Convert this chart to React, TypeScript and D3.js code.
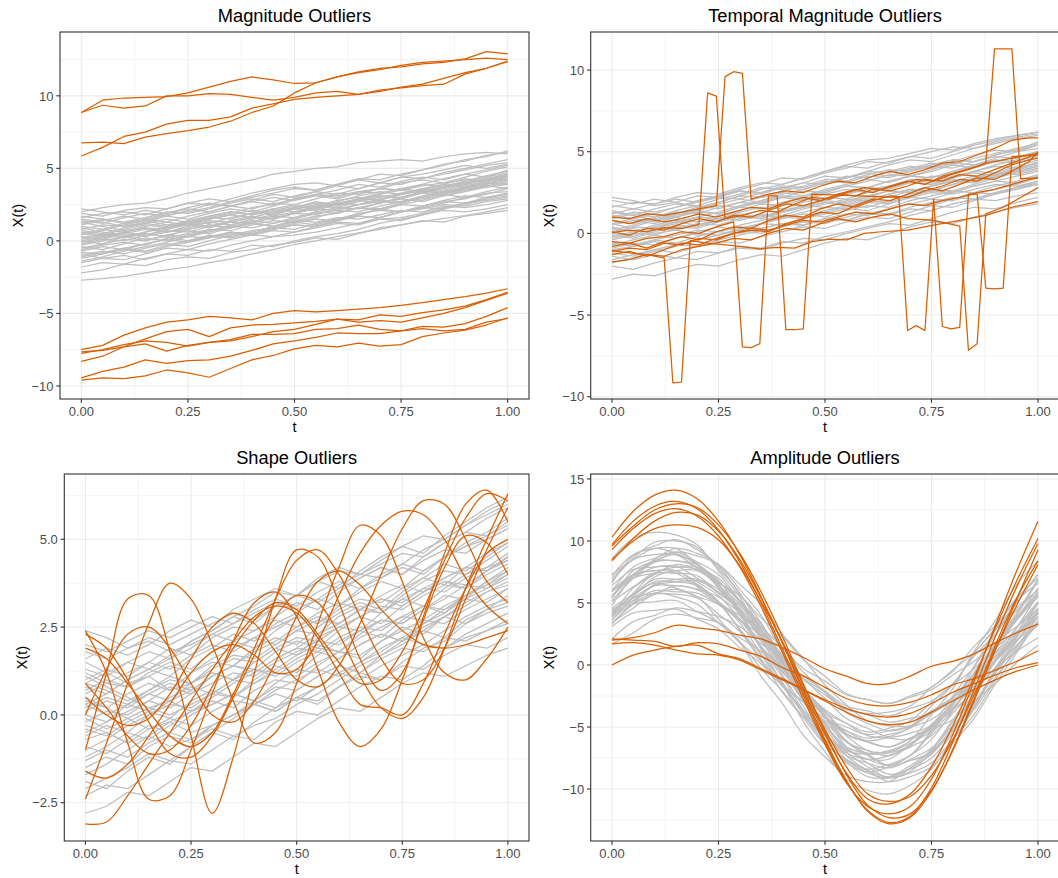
import React from "react";
import * as d3 from "d3";

// ---------- shared grids ----------
const T21 = [0, 0.05, 0.1, 0.15, 0.2, 0.25, 0.3, 0.35, 0.4, 0.45, 0.5, 0.55, 0.6, 0.65, 0.7, 0.75, 0.8, 0.85, 0.9, 0.95, 1];
const T_STEPS = 49; // temporal panel sampled on a 50-point grid, t = i / 49
const X_TICKS = [0, 0.25, 0.5, 0.75, 1];
const X_TICK_LABELS = ["0.00", "0.25", "0.50", "0.75", "1.00"];
const X_MINOR = [0.125, 0.375, 0.625, 0.875];

// ---------- Magnitude outliers ----------
const MAG_GRAY = [
  [-2.7,-2.6,-2.45,-2.2,-2.0,-1.8,-1.5,-1.25,-0.9,-0.6,-0.25,0.0,0.3,0.55,0.8,1.1,1.35,1.55,1.75,2.0,2.3],
  [-2.2,-2.0,-1.6,-1.7,-1.3,-1.1,-1.2,-0.8,-0.6,-0.3,-0.1,0.2,0.1,0.5,0.9,1.1,1.4,1.3,1.7,1.9,2.1],
  [-1.8,-1.5,-1.6,-1.2,-0.9,-0.6,-0.7,-0.3,0.0,0.3,0.4,0.6,0.9,1.2,1.5,1.6,1.9,2.3,2.6,2.8,3.0],
  [-1.5,-1.2,-1.3,-0.9,-0.5,-0.6,-0.2,0.1,0.4,0.3,0.6,1.0,1.3,1.2,1.6,2.0,2.2,2.5,2.4,2.7,2.9],
  [-1.2,-0.9,-0.6,-0.8,-0.4,-0.1,0.3,0.2,0.5,0.8,1.1,1.0,1.4,1.7,1.6,2.0,2.4,2.7,2.9,3.3,3.4],
  [-1.0,-0.7,-0.9,-0.5,-0.2,-0.4,0.0,0.4,0.7,0.9,0.8,1.2,1.5,1.9,2.1,2.0,2.3,2.6,3.0,3.2,3.6],
  [-0.8,-0.9,-0.5,-0.2,0.1,0.3,0.2,0.6,0.5,0.9,1.2,1.5,1.4,1.8,2.2,2.5,2.4,2.8,3.1,3.0,3.3],
  [-0.6,-0.3,-0.1,-0.3,0.2,0.5,0.8,0.7,1.1,1.4,1.3,1.6,2.0,2.3,2.2,2.6,3.0,3.3,3.5,3.8,4.1],
  [-0.4,-0.6,-0.2,0.2,0.0,0.4,0.7,1.0,0.9,1.2,1.5,1.9,2.1,2.0,2.4,2.7,2.9,3.2,3.6,3.7,3.9],
  [-0.2,0.1,0.0,0.4,0.7,0.6,1.0,1.3,1.2,1.6,1.9,1.8,2.2,2.5,2.7,2.6,3.0,3.4,3.6,4.0,4.2],
  [0.0,-0.2,0.3,0.5,0.3,0.8,1.1,0.9,1.3,1.7,1.6,2.0,2.3,2.2,2.6,3.0,3.3,3.1,3.5,3.8,3.6],
  [0.1,0.4,0.2,0.6,0.9,1.2,1.0,1.4,1.7,1.5,1.9,2.3,2.5,2.8,2.6,3.0,3.4,3.7,3.9,4.3,4.5],
  [0.3,0.1,0.5,0.8,0.6,1.0,1.4,1.3,1.6,2.0,2.2,2.1,2.5,2.9,3.1,2.9,3.3,3.6,4.0,4.2,4.4],
  [0.5,0.8,0.6,1.0,1.3,1.1,1.5,1.8,2.1,1.9,2.3,2.7,2.5,2.9,3.3,3.6,3.4,3.8,4.1,4.5,4.8],
  [0.6,0.4,0.8,1.1,0.9,1.3,1.2,1.6,1.9,2.2,2.0,2.4,2.8,3.0,2.8,3.2,3.5,3.9,3.7,4.1,4.3],
  [0.8,1.1,1.0,1.3,1.7,1.5,1.9,2.2,2.0,2.4,2.8,3.1,2.9,3.3,3.6,3.5,3.9,4.3,4.6,4.4,4.9],
  [1.0,0.8,1.2,1.5,1.3,1.7,2.0,2.4,2.2,2.6,2.5,2.9,3.3,3.2,3.6,4.0,4.2,4.0,4.4,4.8,5.1],
  [1.2,1.5,1.3,1.6,2.0,1.9,2.2,2.6,2.9,2.7,3.1,3.4,3.2,3.6,4.0,3.9,4.3,4.6,4.9,5.2,5.4],
  [1.4,1.2,1.6,1.9,1.7,2.1,2.5,2.4,2.8,3.2,3.0,3.4,3.8,3.6,4.0,4.4,4.3,4.7,5.0,5.3,5.6],
  [1.6,1.9,2.0,1.8,2.2,2.6,2.9,2.7,3.1,3.5,3.7,3.5,3.9,4.3,4.2,4.6,4.9,5.3,5.5,5.9,6.1],
  [1.9,1.7,2.1,2.3,2.2,2.6,2.5,2.9,3.3,3.6,3.9,4.0,3.8,4.2,4.6,4.5,4.9,5.2,5.6,5.8,6.2],
  [2.2,2.0,1.8,2.1,1.9,2.3,2.6,2.4,2.7,2.5,2.9,3.2,3.0,3.4,3.3,3.6,3.9,3.7,4.0,4.3,4.6],
  [1.3,1.0,0.7,0.9,0.6,0.8,1.1,0.9,1.2,1.0,1.4,1.3,1.6,1.5,1.8,2.1,2.0,2.4,2.3,2.5,2.8],
  [0.9,0.6,0.4,0.1,0.3,0.0,0.3,0.6,0.4,0.7,0.6,0.9,1.2,1.1,1.5,1.4,1.8,2.1,2.0,2.2,2.5],
  [-0.3,0.0,0.3,0.6,1.0,1.2,1.6,1.9,2.3,2.5,2.9,3.2,3.1,3.4,3.6,3.5,3.8,4.0,4.2,4.1,4.4],
  [0.4,0.7,1.1,1.4,1.8,2.0,2.3,2.7,3.0,3.3,3.6,3.5,3.9,4.2,4.0,4.4,4.6,4.9,5.2,5.0,5.3],
  [-1.4,-1.1,-0.7,-0.4,-0.1,0.3,0.6,1.0,1.3,1.7,2.0,2.3,2.6,2.5,2.9,3.2,3.5,3.4,3.8,4.1,4.5],
  [1.7,1.5,1.2,1.4,1.1,1.3,1.6,1.5,1.9,1.8,2.2,2.5,2.4,2.8,3.1,3.0,3.4,3.3,3.7,3.9,4.2],
  [-0.9,-1.2,-1.0,-1.3,-0.9,-1.0,-0.6,-0.7,-0.3,-0.4,0.0,0.3,0.5,0.8,1.2,1.5,1.8,2.2,2.5,2.9,3.1],
  [2.0,2.3,2.5,2.6,2.9,3.3,3.6,3.9,4.2,4.6,4.8,5.0,5.1,5.4,5.5,5.6,5.5,5.8,6.0,6.1,6.0],
  [0.2,0.5,0.3,0.0,0.4,0.7,0.5,0.9,1.2,1.0,1.4,1.7,1.9,2.3,2.1,2.5,2.8,3.2,3.0,3.4,3.7],
  [-0.5,-0.2,0.1,0.0,0.4,0.3,0.7,1.1,1.4,1.2,1.6,2.0,1.9,2.3,2.6,2.9,2.7,3.1,3.4,3.7,4.0],
  [1.1,1.4,1.7,1.5,1.9,2.2,2.0,2.4,2.7,3.0,2.8,3.2,3.5,3.9,3.7,4.1,4.4,4.2,4.6,4.9,5.2],
  [0.7,0.5,0.9,1.2,1.0,1.4,1.7,2.0,1.8,2.2,2.5,2.3,2.7,3.1,3.4,3.2,3.6,3.9,4.3,4.1,4.6],
  [-1.1,-0.8,-0.5,-0.7,-0.3,0.0,0.4,0.3,0.6,1.0,1.3,1.1,1.5,1.8,2.2,2.0,2.4,2.7,2.6,3.0,3.2],
  [0.0,0.3,0.6,0.9,0.8,1.2,1.5,1.8,1.6,2.0,2.3,2.6,2.5,2.9,3.2,3.5,3.3,3.7,4.1,4.4,4.7],
  [1.5,1.3,1.0,1.2,1.5,1.3,1.7,2.0,1.8,2.1,2.4,2.2,2.6,2.9,2.8,3.2,3.5,3.3,3.7,4.0,3.9],
  [-0.7,-0.4,-0.6,-0.2,0.1,-0.1,0.2,0.5,0.4,0.8,1.1,1.0,1.4,1.7,1.6,2.0,2.3,2.2,2.6,2.9,3.3],
  [0.5,0.3,0.6,0.4,0.8,1.1,0.9,1.3,1.6,1.5,1.9,2.2,2.1,2.5,2.8,2.7,3.1,3.4,3.6,3.9,4.3],
  [-0.1,0.2,0.5,0.3,0.6,0.9,1.3,1.1,1.5,1.8,2.2,2.4,2.3,2.7,3.0,3.3,3.6,3.5,3.9,4.2,4.6],
];
const MAG_OUT = [
  [8.85,9.7,9.85,9.9,9.95,10.2,10.6,11.0,11.3,11.1,10.85,10.9,11.3,11.65,11.9,12.0,12.2,12.3,12.55,13.05,12.9],
  [8.85,9.35,9.15,9.3,10.0,10.0,10.15,10.1,9.9,9.7,9.9,10.2,10.3,10.1,10.3,10.6,10.8,11.2,11.6,11.9,12.35],
  [6.75,6.8,6.7,7.15,7.4,7.6,7.85,8.25,8.85,9.3,10.2,10.9,11.3,11.6,11.8,12.1,12.3,12.4,12.5,12.6,12.5],
  [5.85,6.45,7.2,7.5,8.05,8.3,8.3,8.55,9.15,9.45,9.75,9.9,10.0,10.1,10.4,10.55,10.7,10.8,11.5,11.9,12.4],
  [-7.5,-7.2,-6.5,-6.0,-5.6,-5.45,-5.2,-5.3,-5.45,-5.0,-4.8,-4.9,-4.8,-4.7,-4.6,-4.45,-4.25,-4.05,-3.85,-3.6,-3.3],
  [-7.65,-7.55,-7.3,-6.75,-6.25,-6.1,-6.6,-6.0,-5.8,-5.75,-5.65,-5.55,-5.4,-5.45,-5.1,-5.2,-4.95,-4.75,-4.5,-4.05,-3.55],
  [-7.75,-7.5,-7.15,-6.9,-7.0,-7.25,-7.0,-6.9,-6.6,-6.25,-6.1,-5.75,-5.4,-5.6,-5.5,-5.6,-5.3,-5.0,-4.6,-4.1,-3.6],
  [-8.3,-7.95,-7.3,-7.1,-7.6,-7.2,-7.0,-6.8,-6.45,-6.45,-6.4,-6.1,-6.05,-5.8,-6.1,-6.2,-5.9,-5.95,-5.7,-5.2,-4.6],
  [-9.45,-9.0,-8.7,-8.2,-8.45,-8.25,-8.2,-7.95,-7.55,-7.1,-6.9,-6.65,-6.35,-6.4,-6.4,-6.2,-6.05,-6.2,-6.1,-5.6,-5.35],
  [-9.6,-9.45,-9.5,-9.3,-8.9,-9.1,-9.4,-8.8,-8.2,-7.9,-7.45,-7.2,-7.3,-7.05,-7.25,-7.15,-6.6,-6.35,-6.15,-5.8,-5.3],
];

// ---------- Temporal magnitude outliers ----------
const TMP_GRAY = [
  [-2.8,-2.5,-2.6,-2.2,-1.9,-2.0,-1.6,-1.3,-1.4,-1.0,-0.6,-0.3,-0.4,0.0,0.4,0.7,0.6,1.0,1.3,1.6,1.8],
  [-2.0,-2.2,-1.8,-1.5,-1.6,-1.2,-0.9,-1.0,-0.6,-0.3,-0.4,0.0,0.3,0.6,0.5,0.9,1.3,1.6,1.5,1.9,2.2],
  [-1.6,-1.3,-1.0,-1.2,-0.8,-0.5,-0.6,-0.2,0.1,0.4,0.3,0.7,1.0,0.9,1.3,1.7,1.6,2.0,2.4,2.7,3.0],
  [-1.2,-1.4,-1.0,-0.7,-0.8,-0.4,-0.1,0.2,0.1,0.5,0.9,0.8,1.2,1.5,1.8,1.7,2.1,2.5,2.4,2.8,3.1],
  [-0.9,-0.6,-0.7,-0.3,0.0,-0.1,0.3,0.6,0.5,0.9,1.2,1.5,1.4,1.8,2.2,2.1,2.5,2.9,3.2,3.1,3.5],
  [-0.6,-0.8,-0.4,-0.1,0.2,0.1,0.5,0.8,1.1,1.0,1.4,1.7,1.6,2.0,2.4,2.7,2.6,3.0,3.4,3.7,4.0],
  [-0.3,0.0,-0.1,0.3,0.6,0.5,0.9,1.2,1.1,1.5,1.8,2.1,2.0,2.4,2.7,2.6,3.0,3.4,3.7,3.6,3.9],
  [-0.1,-0.3,0.1,0.4,0.3,0.7,1.0,0.9,1.3,1.6,1.9,1.8,2.2,2.6,2.5,2.9,3.3,3.2,3.6,4.0,4.3],
  [0.1,0.4,0.3,0.7,1.0,0.9,1.3,1.6,1.5,1.9,2.2,2.1,2.5,2.8,3.1,3.0,3.4,3.8,3.7,4.1,4.5],
  [0.3,0.1,0.5,0.8,0.7,1.1,1.4,1.8,1.7,2.1,2.0,2.4,2.8,2.7,3.1,3.5,3.4,3.8,4.2,4.5,4.7],
  [0.5,0.8,0.6,1.0,1.3,1.2,1.6,1.9,2.2,2.1,2.5,2.9,2.8,3.2,3.5,3.4,3.8,4.2,4.5,4.4,4.8],
  [0.8,0.6,1.0,1.3,1.2,1.6,1.9,1.8,2.2,2.6,2.5,2.9,3.2,3.6,3.5,3.9,4.3,4.2,4.6,5.0,5.2],
  [1.0,1.3,1.2,1.6,1.9,2.2,2.1,2.5,2.8,2.7,3.1,3.5,3.4,3.8,4.1,4.0,4.4,4.8,5.1,5.0,5.4],
  [1.3,1.1,1.5,1.8,1.7,2.1,2.4,2.8,2.7,3.1,3.5,3.4,3.8,4.2,4.5,4.4,4.8,5.2,5.5,5.8,6.0],
  [1.6,1.9,1.8,2.2,2.5,2.4,2.8,3.1,3.0,3.4,3.8,4.1,4.0,4.4,4.7,4.6,5.0,5.4,5.7,6.0,6.2],
  [2.0,1.8,2.1,1.9,2.3,2.2,2.6,2.5,2.9,2.8,3.2,3.1,3.5,3.4,3.8,4.1,4.0,4.4,4.7,4.6,5.0],
  [2.2,2.0,1.7,1.9,1.6,1.8,2.1,1.9,2.2,2.0,2.4,2.7,2.5,2.9,3.2,3.0,3.4,3.7,3.5,3.9,4.2],
  [1.4,1.1,0.8,1.0,0.7,0.9,0.8,1.1,1.0,1.3,1.6,1.5,1.9,1.8,2.2,2.5,2.4,2.7,3.0,2.9,3.2],
  [0.6,0.3,0.0,0.2,-0.1,0.1,0.4,0.3,0.6,0.5,0.9,0.8,1.2,1.1,1.5,1.4,1.8,2.1,2.0,2.3,2.5],
  [-0.4,-0.1,0.3,0.6,1.0,1.3,1.7,2.0,2.4,2.7,3.1,3.4,3.8,3.7,4.0,4.3,4.2,4.6,4.9,5.2,5.5],
  [0.2,0.5,0.9,1.2,1.6,1.9,2.3,2.2,2.6,2.9,3.3,3.2,3.6,3.9,3.8,4.2,4.5,4.4,4.8,5.1,5.4],
  [-1.8,-1.5,-1.1,-0.8,-0.4,-0.1,0.3,0.6,1.0,0.9,1.3,1.6,2.0,1.9,2.3,2.6,2.5,2.9,3.2,3.5,3.8],
  [1.2,1.5,1.3,1.6,2.0,2.3,2.7,3.0,3.4,3.3,3.7,4.0,4.4,4.3,4.7,5.0,5.3,5.2,5.6,5.9,6.1],
  [-1.4,-1.6,-1.3,-1.5,-1.1,-1.2,-0.8,-0.9,-0.5,-0.6,-0.2,0.1,0.4,0.7,1.1,1.4,1.8,2.1,2.5,2.8,3.2],
  [0.0,0.4,0.8,1.2,1.5,1.9,2.3,2.7,3.0,3.4,3.8,4.2,4.5,4.6,4.9,5.2,5.1,5.5,5.8,6.0,6.2],
  [0.4,0.1,0.4,0.7,0.5,0.9,1.2,1.0,1.4,1.7,1.6,2.0,2.3,2.2,2.6,2.9,3.2,3.1,3.5,3.8,4.1],
  [-0.7,-0.4,-0.1,-0.3,0.1,0.4,0.2,0.6,0.9,1.2,1.0,1.4,1.7,1.6,2.0,2.3,2.6,2.5,2.9,3.2,3.6],
  [0.9,1.2,1.0,1.4,1.7,1.5,1.9,2.2,2.5,2.3,2.7,3.0,3.3,3.1,3.5,3.8,4.2,4.0,4.4,4.7,5.0],
  [-0.2,0.1,0.4,0.2,0.5,0.8,1.1,0.9,1.3,1.6,1.9,1.7,2.1,2.4,2.7,2.6,3.0,3.3,3.6,3.9,4.4],
  [1.7,1.5,1.8,2.1,1.9,2.3,2.6,2.4,2.8,3.1,3.0,3.4,3.7,3.5,3.9,4.2,4.5,4.4,4.8,5.1,5.6],
  [-1.0,-0.8,-0.5,-0.7,-0.4,-0.1,0.2,0.0,0.4,0.7,0.6,1.0,1.3,1.2,1.6,1.9,2.2,2.1,2.5,2.8,3.0],
  [0.6,0.9,0.7,1.1,1.4,1.2,1.6,1.5,1.9,2.2,2.0,2.4,2.7,2.9,3.3,3.1,3.5,3.8,4.1,4.0,4.3],
  [0.0,-0.2,0.2,0.5,0.4,0.8,1.1,1.4,1.3,1.7,2.0,1.9,2.3,2.6,2.5,2.9,3.2,3.5,3.4,3.8,4.1],
  [1.1,0.9,1.2,1.0,1.4,1.7,1.6,2.0,2.3,2.2,2.6,2.9,2.8,3.2,3.5,3.4,3.8,4.1,4.4,4.3,4.7],
  [-0.5,-0.7,-0.4,-0.6,-0.2,0.1,0.0,0.3,0.6,0.5,0.9,1.2,1.1,1.5,1.8,2.1,2.0,2.4,2.7,3.0,3.4],
];
// each point: [grid index (t = i/49), value]
const TMP_OUT = [
  [[0,-1.05],[2,-1.2],[4,-1.3],[6,-1.5],[7,-9.15],[8,-9.1],[9,-0.45],[11,-0.6],[14,-0.75],[17,-0.95],[19,-0.85],[21,-0.9],[23,-0.5],[25,-0.35],[27,-0.4],[29,0.0],[31,0.1],[34,0.2],[37,0.5],[40,0.8],[43,1.1],[46,1.6],[49,1.95]],
  [[0,0.05],[2,0.2],[4,0.1],[6,0.35],[8,0.3],[10,0.55],[11,8.6],[12,8.4],[13,0.9],[15,1.1],[17,1.4],[19,1.3],[21,1.8],[23,2.2],[25,2.1],[27,2.5],[29,2.8],[31,2.7],[33,3.0],[35,3.3],[37,3.2],[39,3.6],[41,3.9],[43,4.3],[45,4.5],[47,4.7],[49,4.9]],
  [[0,1.0],[2,0.9],[4,1.2],[6,1.1],[8,1.3],[10,1.5],[12,1.7],[13,9.6],[14,9.9],[15,9.8],[16,2.1],[18,2.4],[20,2.6],[22,2.5],[24,2.9],[26,3.2],[28,3.1],[30,3.5],[32,3.8],[34,3.6],[36,3.9],[38,4.3],[40,4.4],[42,4.8],[44,5.2],[46,5.7],[48,5.85],[49,5.85]],
  [[0,-0.5],[2,-0.6],[4,-0.3],[6,-0.2],[8,0.1],[10,0.0],[12,0.4],[14,0.7],[15,-6.95],[16,-7.0],[17,-6.75],[18,2.3],[19,2.3],[20,-5.9],[21,-5.9],[22,-5.85],[23,2.4],[33,2.2],[34,-5.95],[35,-5.65],[36,-5.95],[37,2.1],[38,-5.7],[39,-5.85],[40,-5.75],[41,2.4],[42,2.4],[43,-3.35],[44,-3.4],[45,-3.35],[46,4.7],[49,4.8]],
  [[0,-1.75],[2,-1.6],[4,-1.3],[6,-1.4],[8,-1.0],[10,-0.8],[12,-0.6],[14,-0.3],[16,-0.4],[18,0.0],[20,0.3],[22,0.2],[24,0.6],[26,0.9],[28,0.7],[30,1.0],[32,1.2],[34,0.9],[37,0.8],[40,0.45],[41,-7.15],[42,-6.75],[43,1.2],[45,1.6],[47,2.2],[49,2.8]],
  [[0,0.8],[2,0.6],[4,0.9],[6,0.7],[8,0.9],[10,1.2],[12,1.0],[14,1.3],[16,1.6],[18,1.5],[20,1.9],[22,2.2],[24,2.0],[26,2.4],[28,2.7],[30,2.5],[32,2.9],[34,3.2],[36,3.0],[38,3.5],[40,3.8],[42,4.1],[43,4.3],[44,11.3],[45,11.3],[46,11.3],[47,3.35],[49,3.4]],
  [[0,-0.8],[2,-0.6],[4,-0.9],[6,-0.5],[8,-0.2],[10,-0.4],[12,0.1],[14,0.4],[16,0.3],[18,0.8],[20,1.1],[22,1.0],[24,1.5],[26,1.8],[28,1.6],[30,2.0],[32,2.3],[34,2.2],[36,2.6],[38,2.9],[40,3.3],[42,3.2],[44,3.7],[46,4.2],[48,4.5],[49,4.6]],
  [[0,-1.3],[2,-1.1],[4,-1.4],[6,-1.0],[8,-0.6],[10,-0.7],[12,-0.3],[14,0.0],[16,0.2],[18,0.1],[20,0.6],[22,0.9],[24,1.3],[26,1.2],[28,1.7],[30,2.1],[32,2.0],[34,2.4],[36,2.8],[38,2.6],[40,3.0],[42,3.4],[44,3.3],[46,3.8],[48,4.4],[49,5.0]],
  [[0,0.1],[2,-0.1],[4,0.3],[6,0.2],[8,0.6],[10,0.9],[12,0.7],[14,1.1],[16,1.0],[18,1.4],[20,1.8],[22,1.7],[24,2.0],[26,2.4],[28,2.3],[30,2.7],[32,2.6],[34,2.9],[36,3.3],[38,3.2],[40,3.6],[42,3.5],[44,3.9],[46,4.3],[48,4.7],[49,4.9]],
  [[0,-1.1],[2,-0.9],[4,-1.0],[6,-0.6],[8,-0.7],[10,-0.3],[12,-0.4],[14,0.0],[16,0.3],[18,0.2],[20,0.5],[22,0.8],[24,0.7],[26,1.0],[28,1.3],[30,1.2],[32,1.5],[34,1.8],[36,1.7],[38,2.0],[40,2.2],[42,2.5],[44,2.7],[46,3.0],[48,3.3],[49,3.4]],
];

// ---------- Shape outliers ----------
const SHP_GRAY = [
  [-2.8,-2.6,-2.2,-2.3,-1.9,-1.5,-1.6,-1.2,-0.8,-0.9,-0.5,-0.1,0.2,0.1,0.5,0.9,1.2,1.1,1.4,1.7,1.9],
  [-2.3,-2.0,-2.1,-1.7,-1.3,-1.4,-1.0,-0.6,-0.7,-0.2,0.1,0.0,0.4,0.8,1.1,1.0,1.4,1.9,2.2,2.4,2.7],
  [-1.9,-2.1,-1.6,-1.2,-1.4,-0.9,-0.5,-0.7,-0.2,0.2,0.5,0.3,0.8,1.2,1.0,1.5,1.9,2.1,2.6,2.9,3.1],
  [-1.5,-1.2,-1.4,-0.9,-0.6,-0.8,-0.3,0.0,0.4,0.2,0.7,1.1,1.4,1.2,1.7,2.0,2.4,2.2,2.7,3.0,3.4],
  [-1.2,-0.9,-0.5,-0.7,-0.3,0.1,0.4,0.2,0.7,1.0,0.9,1.4,1.8,1.6,2.1,2.5,2.3,2.8,3.2,3.5,3.7],
  [-0.9,-1.1,-0.7,-0.3,-0.5,0.0,0.3,0.6,0.4,0.9,1.3,1.2,1.6,2.0,2.3,2.1,2.6,3.0,3.3,3.2,3.6],
  [-0.6,-0.3,-0.5,0.0,0.3,0.2,0.6,1.0,0.9,1.3,1.7,2.0,1.8,2.3,2.7,2.6,3.0,3.4,3.3,3.8,4.1],
  [-0.4,-0.6,-0.2,0.1,-0.1,0.4,0.7,0.5,1.0,1.4,1.2,1.7,2.1,2.4,2.2,2.7,3.1,2.9,3.4,3.7,4.0],
  [-0.2,0.1,0.0,0.4,0.8,0.6,1.1,1.4,1.3,1.8,2.1,1.9,2.4,2.8,2.6,3.1,3.5,3.8,3.6,4.1,4.5],
  [0.0,-0.2,0.3,0.6,0.4,0.9,1.2,1.0,1.5,1.9,1.7,2.2,2.5,2.4,2.9,3.3,3.1,3.6,4.0,4.2,4.4],
  [0.2,0.5,0.3,0.7,1.1,0.9,1.4,1.7,1.6,2.0,2.4,2.3,2.8,3.1,2.9,3.4,3.8,4.1,4.0,4.4,4.8],
  [0.4,0.2,0.6,0.9,0.7,1.2,1.5,1.4,1.9,2.2,2.0,2.5,2.9,3.2,3.0,3.5,3.9,3.7,4.2,4.6,4.9],
  [0.6,0.9,0.8,1.2,1.5,1.3,1.8,2.1,1.9,2.4,2.8,2.6,3.1,3.5,3.8,3.6,4.1,4.5,4.8,5.0,5.3],
  [0.8,0.6,1.0,1.3,1.1,1.6,1.9,2.3,2.1,2.6,2.9,3.3,3.1,3.6,3.9,4.2,4.0,4.5,4.9,5.2,5.6],
  [1.0,1.3,1.1,1.5,1.9,1.7,2.2,2.5,2.4,2.8,3.2,3.0,3.5,3.9,4.2,4.0,4.5,4.9,5.2,5.6,5.9],
  [1.3,1.1,1.5,1.8,1.6,2.1,2.4,2.8,2.6,3.1,3.4,3.8,3.6,4.1,4.5,4.8,4.6,5.1,5.5,5.9,6.2],
  [1.6,1.9,1.7,2.0,2.4,2.7,2.5,3.0,3.3,3.6,3.4,3.9,4.2,4.0,4.4,4.8,5.1,5.0,5.4,5.8,6.1],
  [2.0,1.8,2.1,2.4,2.2,2.5,2.8,2.6,3.0,3.3,3.1,3.5,3.8,3.6,4.0,4.3,4.1,4.5,4.8,5.1,5.4],
  [2.4,2.2,1.9,2.1,1.8,2.0,2.3,2.1,2.4,2.7,2.5,2.9,3.2,3.0,3.4,3.7,3.5,3.9,4.2,4.1,4.5],
  [1.5,1.2,0.9,1.1,0.7,0.9,1.2,1.0,1.3,1.1,1.5,1.8,1.6,2.0,2.3,2.1,2.5,2.8,2.6,3.0,3.2],
  [1.1,0.8,0.5,0.2,0.4,0.1,0.3,0.6,0.4,0.8,0.7,1.1,1.4,1.2,1.6,1.9,1.8,2.2,2.1,2.4,2.6],
  [0.5,0.2,-0.1,-0.4,-0.2,-0.5,-0.3,0.0,0.3,0.1,0.5,0.4,0.8,1.1,1.0,1.4,1.3,1.7,2.0,1.9,2.2],
  [-1.0,-0.7,-0.3,0.0,0.4,0.7,1.1,1.4,1.8,2.1,2.5,2.8,2.6,3.0,3.3,3.1,3.5,3.8,3.7,4.1,4.4],
  [-1.7,-1.4,-1.0,-0.6,-0.2,0.1,0.5,0.9,1.2,1.6,1.9,2.3,2.6,3.0,2.9,3.3,3.6,3.5,3.9,4.2,4.6],
  [0.3,0.6,1.0,1.3,1.7,2.1,2.4,2.8,3.1,3.5,3.4,3.8,4.1,4.0,4.3,4.6,4.5,4.9,5.2,5.1,5.5],
  [-0.3,-0.5,-0.8,-0.6,-0.9,-0.7,-0.4,-0.6,-0.3,-0.1,0.3,0.6,1.0,1.4,1.7,2.1,2.4,2.8,3.1,3.5,3.8],
  [0.9,1.2,1.5,1.3,1.6,1.9,2.3,2.6,2.9,3.2,3.0,3.3,3.7,4.0,3.9,4.3,4.7,5.0,5.4,5.7,6.0],
  [-2.1,-1.8,-1.5,-1.1,-1.3,-0.9,-0.5,-0.1,0.3,0.6,0.4,0.8,1.2,1.5,1.9,2.2,2.6,2.9,3.3,3.6,3.9],
  [0.1,0.4,0.2,0.6,0.9,0.7,1.1,1.4,1.2,1.6,1.9,1.8,2.2,2.5,2.4,2.8,3.1,3.0,3.4,3.7,4.1],
  [-0.7,-0.5,-0.8,-0.4,-0.1,-0.3,0.1,0.4,0.3,0.7,1.0,1.3,1.1,1.5,1.8,2.2,2.0,2.4,2.8,3.1,3.3],
  [1.2,0.9,1.2,1.5,1.3,1.7,2.0,1.8,2.2,2.5,2.8,2.6,3.0,3.3,3.2,3.6,3.9,4.3,4.1,4.5,4.9],
  [-1.3,-1.0,-1.2,-0.8,-0.5,-0.7,-0.3,0.0,0.3,0.1,0.5,0.8,1.2,1.0,1.4,1.7,2.0,1.9,2.3,2.6,2.9],
  [0.7,1.0,0.8,1.1,1.4,1.2,1.6,1.9,2.2,2.0,2.4,2.7,2.6,3.0,3.3,3.2,3.6,3.9,4.2,4.1,4.5],
  [-0.1,-0.4,-0.1,0.2,0.0,0.3,0.6,0.5,0.9,1.2,1.1,1.5,1.8,1.7,2.1,2.4,2.7,2.6,3.0,3.3,3.6],
  [1.8,1.6,1.9,2.2,2.0,2.3,2.6,2.9,2.7,3.1,3.4,3.2,3.6,3.9,4.2,4.0,4.4,4.7,4.6,5.0,5.3],
  [0.3,0.0,0.3,0.1,0.5,0.8,0.6,1.0,1.3,1.2,1.6,1.9,1.8,2.2,2.5,2.8,2.7,3.1,3.4,3.8,4.2],
  [-0.5,-0.2,0.1,0.4,0.2,0.6,0.9,1.2,1.1,1.5,1.8,2.1,2.0,2.4,2.7,2.6,3.0,3.3,3.7,3.6,4.0],
  [0.9,0.7,0.4,0.7,1.0,0.9,1.3,1.6,1.5,1.9,2.2,2.1,2.5,2.8,3.1,3.0,3.4,3.7,3.6,4.0,4.3],
];
const SHP_OUT = [
  [-3.1,-3.05,-2.3,-1.4,-0.5,0.4,1.3,2.1,2.8,3.1,2.9,2.2,1.2,0.3,0.2,0.0,0.9,2.3,3.6,4.6,5.0],
  [-1.0,1.2,3.3,3.4,1.8,-0.6,-2.8,-1.2,1.2,3.3,4.7,4.5,3.2,1.6,0.7,1.2,2.8,4.6,6.0,6.4,5.5],
  [-2.4,-0.8,0.9,2.6,3.75,3.3,2.0,0.4,-0.8,-0.5,0.9,2.6,4.2,5.4,5.1,3.8,2.2,1.2,1.0,1.6,2.5],
  [2.4,1.2,-0.8,-2.4,-2.3,-1.0,0.6,2.1,3.2,3.5,2.8,1.3,-0.2,-0.9,-0.4,1.0,2.7,4.2,5.1,4.9,4.0],
  [2.3,1.9,1.0,-0.2,-1.1,-1.2,-0.6,0.5,1.7,2.8,3.4,3.2,2.3,1.1,0.2,-0.1,0.5,1.9,3.6,5.0,6.3],
  [1.9,1.6,0.9,0.1,-0.6,-0.9,-0.5,0.6,1.9,3.3,4.4,4.7,4.0,2.8,1.6,0.9,1.0,1.9,3.3,4.7,5.9],
  [0.5,0.0,-0.3,-0.1,0.6,1.6,2.5,2.9,2.6,1.8,1.0,0.8,1.4,2.6,4.0,5.3,6.1,6.0,5.0,3.8,3.2],
  [0.0,1.3,2.3,2.5,1.9,0.9,0.0,-0.2,0.4,1.5,2.8,3.8,4.1,3.7,3.0,2.4,2.0,1.9,2.0,2.2,2.4],
  [-1.6,-1.8,-1.4,-0.6,0.3,1.2,1.8,2.0,1.7,1.2,1.3,2.1,3.4,4.6,5.4,5.8,5.7,5.0,3.9,3.1,2.6],
  [0.9,0.2,-0.6,-1.1,-1.0,-0.3,0.8,1.9,2.7,3.2,3.0,2.3,1.5,0.9,1.0,1.8,3.0,4.4,5.6,6.3,6.1],
];

// ---------- Amplitude outliers ----------
const AMP_GRAY = [
  [8.6,10.2,10.7,10.5,9.7,7.6,5.5,2.4,-0.1,-2.9,-4.8,-6.6,-7.1,-6.9,-6.1,-4.0,-1.9,1.1,3.6,6.5,8.4],
  [5.2,7.0,8.3,8.4,7.9,6.2,4.2,1.3,-1.5,-4.6,-7.0,-9.2,-10.1,-10.4,-9.7,-8.4,-6.0,-3.5,-0.3,2.6,5.0],
  [5.1,6.3,7.4,7.4,7.2,5.8,4.4,2.1,0.2,-2.2,-3.8,-5.6,-6.2,-6.6,-5.9,-5.0,-3.1,-1.4,1.0,3.0,5.1],
  [4.0,6.2,7.3,8.1,7.7,7.0,5.1,3.3,0.6,-1.9,-4.0,-6.1,-7.2,-8.1,-7.7,-7.0,-5.1,-3.3,-0.6,1.9,4.2],
  [6.4,7.7,7.9,8.0,7.0,6.1,4.3,2.7,0.6,-1.2,-2.4,-3.6,-3.9,-3.8,-3.3,-1.8,-0.5,1.5,3.2,5.2,6.6],
  [4.0,5.4,5.8,6.1,5.5,4.9,3.6,2.4,0.6,-0.9,-2.1,-3.3,-3.7,-4.1,-3.5,-2.9,-1.6,-0.3,1.4,2.7,4.3],
  [2.1,3.5,4.0,4.6,4.3,3.9,3.1,1.7,0.5,-1.1,-2.2,-3.5,-4.0,-4.6,-4.3,-3.9,-2.8,-1.9,-0.3,1.1,2.2],
  [7.3,8.5,9.4,9.0,8.2,6.3,4.3,1.4,-1.0,-3.7,-5.5,-7.1,-7.6,-7.6,-6.4,-4.9,-2.5,-0.1,2.8,5.0,7.3],
  [3.4,5.0,6.5,6.9,6.9,5.8,4.6,2.4,0.3,-2.3,-4.2,-6.2,-7.3,-8.1,-7.7,-7.1,-5.3,-3.6,-1.0,1.2,3.5],
  [6.0,7.9,8.6,9.1,8.3,7.3,5.2,3.1,0.4,-2.0,-4.2,-5.7,-6.9,-7.0,-6.3,-5.3,-3.2,-1.1,1.6,3.8,6.2],
  [4.2,5.0,5.8,5.5,4.9,3.4,1.9,-0.3,-2.1,-4.2,-5.6,-6.9,-7.2,-7.1,-6.5,-5.0,-3.5,-1.3,0.7,2.4,4.1],
  [4.8,7.2,8.5,9.4,9.0,8.1,6.1,4.0,1.0,-1.8,-4.2,-6.6,-7.9,-8.8,-8.4,-7.5,-5.5,-3.4,-0.4,2.2,5.0],
  [6.1,7.0,7.9,7.9,7.7,6.6,5.6,3.8,2.3,0.4,-0.9,-2.3,-2.8,-3.1,-2.5,-1.8,-0.4,1.0,2.9,4.4,6.1],
  [3.4,4.6,5.7,5.7,5.4,4.1,2.7,0.4,-1.5,-3.9,-5.6,-7.3,-7.9,-8.3,-7.6,-6.7,-4.9,-3.1,-0.7,1.5,3.2],
  [5.6,7.2,7.6,7.6,6.5,5.1,2.8,0.5,-2.2,-4.3,-6.4,-7.6,-8.4,-8.0,-7.3,-5.5,-3.6,-0.9,1.5,3.7,5.8],
  [3.9,5.2,6.4,6.7,6.8,5.9,4.8,3.1,1.4,-0.6,-2.2,-3.8,-4.7,-5.3,-5.0,-4.4,-3.0,-1.7,0.3,2.0,3.9],
  [6.8,8.6,9.9,10.0,9.5,7.8,5.8,2.9,0.1,-3.0,-5.4,-7.6,-8.5,-9.0,-8.1,-6.8,-4.4,-1.9,1.3,4.0,6.8],
  [7.0,8.5,8.9,8.9,7.8,6.5,4.4,2.3,-0.2,-2.2,-4.2,-5.3,-6.1,-5.8,-5.0,-3.3,-1.6,0.9,3.0,5.4,7.0],
  [3.1,4.2,4.4,4.5,3.7,2.9,1.4,0.1,-1.7,-3.0,-4.3,-5.0,-5.6,-5.3,-4.9,-3.7,-2.6,-0.9,0.7,2.0,3.4],
  [3.6,5.5,7.1,7.6,7.6,6.4,4.9,2.5,0.1,-2.8,-5.0,-7.3,-8.5,-9.4,-9.0,-8.2,-6.3,-4.3,-1.5,1.0,3.6],
  [4.3,5.4,6.4,6.4,6.1,4.9,3.6,1.5,-0.3,-2.5,-4.1,-5.6,-6.2,-6.6,-5.9,-5.1,-3.4,-1.7,0.5,2.3,4.2],
  [5.5,7.3,8.3,9.1,8.8,8.1,6.5,4.9,2.5,0.5,-1.6,-3.2,-4.5,-4.9,-4.9,-3.9,-2.7,-0.7,1.3,3.6,5.5],
  [4.6,5.7,6.6,6.2,5.5,3.7,1.8,-0.9,-3.1,-5.7,-7.4,-8.9,-9.4,-9.4,-8.3,-6.9,-4.6,-2.3,0.3,2.5,4.6],
  [5.4,7.6,8.4,8.9,8.1,6.8,4.5,2.1,-0.8,-3.4,-6.0,-7.8,-9.0,-9.1,-8.6,-7.0,-5.1,-2.3,0.4,3.0,5.7],
  [4.5,5.2,6.0,5.9,5.8,4.9,4.0,2.5,1.3,-0.3,-1.3,-2.4,-2.8,-3.1,-2.6,-2.0,-0.8,0.3,1.8,3.1,4.5],
  [1.7,2.6,3.7,4.1,3.8,3.4,2.2,1.1,-0.6,-2.0,-3.6,-4.7,-5.7,-5.9,-6.0,-5.2,-4.4,-2.9,-1.5,0.2,1.6],
  [6.6,8.8,9.6,10.1,9.3,8.0,5.7,3.4,0.4,-2.4,-4.7,-6.8,-7.6,-8.1,-7.3,-6.0,-3.7,-1.3,1.6,4.2,6.9],
  [5.5,7.0,7.4,7.4,6.3,5.0,2.9,0.8,-1.7,-3.7,-5.7,-6.8,-7.6,-7.3,-6.5,-4.8,-3.1,-0.6,1.7,3.9,5.5],
  [5.9,7.3,8.4,8.4,8.1,6.7,5.1,2.8,0.6,-1.9,-3.7,-5.5,-6.2,-6.6,-5.9,-4.9,-3.0,-1.0,1.5,3.7,5.9],
  [3.9,5.8,7.4,7.9,7.9,6.7,5.2,2.8,0.3,-2.5,-4.8,-7.0,-8.2,-9.1,-8.7,-7.9,-6.0,-4.0,-1.2,1.4,3.9],
  [6.0,7.3,7.6,7.6,6.7,5.6,3.7,1.9,-0.3,-2.0,-3.8,-4.7,-5.4,-5.1,-4.5,-3.0,-1.5,0.7,2.5,4.6,6.0],
  [4.2,5.7,6.9,6.9,6.5,5.1,3.4,0.9,-1.4,-4.0,-6.0,-7.9,-8.7,-9.1,-8.3,-7.2,-5.2,-3.1,-0.4,1.9,4.2],
  [3.3,4.9,5.7,6.4,6.1,5.5,4.2,2.8,0.8,-1.1,-2.7,-4.3,-5.1,-5.8,-5.5,-4.9,-3.6,-2.2,-0.2,1.6,3.4],
  [7.2,8.9,9.4,9.4,8.1,6.5,4.0,1.4,-1.5,-4.0,-6.3,-7.7,-8.6,-8.2,-7.3,-5.3,-3.2,-0.2,2.4,5.1,7.3],
  [4.4,5.6,6.7,6.7,6.4,5.1,3.7,1.4,-0.5,-2.9,-4.6,-6.2,-6.9,-7.3,-6.6,-5.7,-3.9,-2.0,0.3,2.3,4.4],
  [3.7,4.9,5.1,5.2,4.3,3.4,1.8,0.3,-1.6,-3.0,-4.5,-5.3,-5.9,-5.6,-5.1,-3.8,-2.6,-0.7,0.9,2.6,3.8],
];
const AMP_OUT = [
  [10.3,12.4,13.7,14.1,13.4,11.6,8.9,5.5,1.8,-2.2,-6.0,-9.3,-11.8,-12.8,-12.3,-10.2,-6.8,-2.7,1.6,5.4,8.4],
  [9.7,11.6,12.8,13.2,12.6,10.9,8.3,5.0,1.3,-2.5,-6.2,-9.4,-11.7,-12.7,-12.2,-9.9,-6.2,-2.0,2.3,6.3,9.8],
  [9.6,11.2,12.5,13.0,12.7,11.3,9.0,5.9,2.3,-1.6,-5.4,-8.8,-11.3,-12.3,-12.0,-10.1,-6.9,-2.9,1.2,5.3,9.3],
  [9.3,11.0,12.2,12.6,12.0,10.4,7.9,4.7,1.0,-2.8,-6.4,-9.5,-11.4,-12.0,-11.4,-9.2,-5.6,-1.3,3.2,7.6,11.6],
  [8.4,10.2,11.6,12.3,12.1,10.8,8.5,5.4,1.8,-2.0,-5.6,-8.7,-10.8,-11.2,-10.4,-8.2,-4.9,-1.0,3.0,6.8,10.2],
  [8.5,10.0,11.0,11.3,11.1,10.1,8.0,5.1,1.9,-1.7,-5.2,-8.2,-10.4,-11.0,-10.6,-8.9,-6.0,-2.4,1.3,4.8,8.1],
  [2.0,2.2,2.6,3.2,3.0,2.8,2.4,2.1,1.4,0.6,-0.3,-0.9,-1.5,-1.5,-0.9,-0.1,0.3,0.9,1.8,2.6,3.3],
  [2.1,2.0,1.9,1.5,1.8,1.7,1.2,0.7,-0.2,-0.9,-1.8,-2.7,-3.2,-3.3,-3.0,-2.4,-1.6,-1.1,-0.4,0.3,1.15],
  [1.7,1.8,1.6,1.2,0.9,0.8,0.4,-0.4,-1.2,-2.0,-2.8,-3.5,-4.0,-4.2,-3.9,-3.1,-2.2,-1.5,-0.8,-0.2,0.2],
  [0.0,0.8,1.2,1.5,1.6,0.9,0.5,-0.3,-1.1,-2.0,-2.9,-3.8,-4.5,-4.8,-4.6,-3.8,-2.9,-2.0,-1.2,-0.5,0.0],
];

// ---------- axis ticks ----------
const TICKS_MAG = [-10, -5, 0, 5, 10];
const TICKS_MAG_LABELS = ["\u221210", "\u22125", "0", "5", "10"];
const MINOR_MAG = [-7.5, -2.5, 2.5, 7.5, 12.5];
const TICKS_SHP = [-2.5, 0, 2.5, 5];
const TICKS_SHP_LABELS = ["\u22122.5", "0.0", "2.5", "5.0"];
const MINOR_SHP = [-1.25, 1.25, 3.75, 6.25];
const TICKS_AMP = [-10, -5, 0, 5, 10, 15];
const TICKS_AMP_LABELS = ["\u221210", "\u22125", "0", "5", "10", "15"];
const MINOR_AMP = [-12.5, -7.5, -2.5, 2.5, 7.5, 12.5];

type Pt = [number, number];
const on21 = (arr: number[]): Pt[] => T21.map((t, i) => [t, arr[i]] as Pt);
const onGrid49 = (arr: number[][]): Pt[] => arr.map(([i, v]) => [i / T_STEPS, v] as Pt);

const GRAY = "#BEBEBE";
const ORANGE = "#D95F02";
const FONT = "'Liberation Sans', Arial, Helvetica, sans-serif";

const PANELS = [
  { id: "mag", title: "Magnitude Outliers", left: 60, top: 32, right: 529, bottom: 399,
    yDomain: [-10.9, 14.4], yTicks: TICKS_MAG, yLabels: TICKS_MAG_LABELS, yMinor: MINOR_MAG,
    gray: MAG_GRAY.map(on21), out: MAG_OUT.map(on21), smoothGray: false, smoothOut: false },
  { id: "tmp", title: "Temporal Magnitude Outliers", left: 590.7, top: 32, right: 1059.3, bottom: 399,
    yDomain: [-10.14, 12.33], yTicks: TICKS_MAG, yLabels: TICKS_MAG_LABELS, yMinor: MINOR_MAG,
    gray: TMP_GRAY.map(on21), out: TMP_OUT.map(onGrid49), smoothGray: false, smoothOut: false },
  { id: "shp", title: "Shape Outliers", left: 64.3, top: 474, right: 529, bottom: 841,
    yDomain: [-3.59, 6.86], yTicks: TICKS_SHP, yLabels: TICKS_SHP_LABELS, yMinor: MINOR_SHP,
    gray: SHP_GRAY.map(on21), out: SHP_OUT.map(on21), smoothGray: false, smoothOut: true },
  { id: "amp", title: "Amplitude Outliers", left: 590.7, top: 474, right: 1059.3, bottom: 841,
    yDomain: [-14.19, 15.4], yTicks: TICKS_AMP, yLabels: TICKS_AMP_LABELS, yMinor: MINOR_AMP,
    gray: AMP_GRAY.map(on21), out: AMP_OUT.map(on21), smoothGray: true, smoothOut: true },
];

function Panel({ p }: { p: any }) {
  const x = d3.scaleLinear().domain([-0.05, 1.05]).range([p.left, p.right]);
  const y = d3.scaleLinear().domain(p.yDomain).range([p.bottom, p.top]);
  const lineLin = d3.line<Pt>().x((d) => x(d[0])).y((d) => y(d[1]));
  const lineSm = d3.line<Pt>().x((d) => x(d[0])).y((d) => y(d[1])).curve(d3.curveCatmullRom.alpha(0.5));
  const gLine = p.smoothGray ? lineSm : lineLin;
  const oLine = p.smoothOut ? lineSm : lineLin;
  const cx = (p.left + p.right) / 2;
  const cy = (p.top + p.bottom) / 2;
  const clipId = `clip-${p.id}`;
  return (
    <g>
      <defs>
        <clipPath id={clipId}>
          <rect x={p.left} y={p.top} width={p.right - p.left} height={p.bottom - p.top} />
        </clipPath>
      </defs>
      <rect x={p.left} y={p.top} width={p.right - p.left} height={p.bottom - p.top} fill="#FFFFFF" />
      {p.yMinor.map((v: number) => (
        <line key={`ym${v}`} x1={p.left} x2={p.right} y1={y(v)} y2={y(v)} stroke="#EBEBEB" strokeWidth={0.55} />
      ))}
      {X_MINOR.map((v) => (
        <line key={`xm${v}`} x1={x(v)} x2={x(v)} y1={p.top} y2={p.bottom} stroke="#EBEBEB" strokeWidth={0.55} />
      ))}
      {p.yTicks.map((v: number) => (
        <line key={`yM${v}`} x1={p.left} x2={p.right} y1={y(v)} y2={y(v)} stroke="#EBEBEB" strokeWidth={1.1} />
      ))}
      {X_TICKS.map((v) => (
        <line key={`xM${v}`} x1={x(v)} x2={x(v)} y1={p.top} y2={p.bottom} stroke="#EBEBEB" strokeWidth={1.1} />
      ))}
      <g clipPath={`url(#${clipId})`}>
        {p.gray.map((s: Pt[], i: number) => (
          <path key={`g${i}`} d={gLine(s) || ""} fill="none" stroke={GRAY} strokeWidth={1.25} strokeLinejoin="round" />
        ))}
        {p.out.map((s: Pt[], i: number) => (
          <path key={`o${i}`} d={oLine(s) || ""} fill="none" stroke={ORANGE} strokeWidth={1.25} strokeLinejoin="round" />
        ))}
      </g>
      <rect x={p.left} y={p.top} width={p.right - p.left} height={p.bottom - p.top} fill="none" stroke="#333333" strokeWidth={1.1} />
      {p.yTicks.map((v: number, i: number) => (
        <g key={`yt${v}`}>
          <line x1={p.left - 3.7} x2={p.left} y1={y(v)} y2={y(v)} stroke="#333333" strokeWidth={1.1} />
          <text x={p.left - 6.5} y={y(v)} dy="0.36em" textAnchor="end" fontFamily={FONT} fontSize={13} fill="#4D4D4D">
            {p.yLabels[i]}
          </text>
        </g>
      ))}
      {X_TICKS.map((v, i) => (
        <g key={`xt${v}`}>
          <line x1={x(v)} x2={x(v)} y1={p.bottom} y2={p.bottom + 3.7} stroke="#333333" strokeWidth={1.1} />
          <text x={x(v)} y={p.bottom + 17} textAnchor="middle" fontFamily={FONT} fontSize={13} fill="#4D4D4D">
            {X_TICK_LABELS[i]}
          </text>
        </g>
      ))}
      <text x={cx} y={p.top - 10} textAnchor="middle" fontFamily={FONT} fontSize={18.3} fill="#000000">
        {p.title}
      </text>
      <text x={cx} y={p.bottom + 33} textAnchor="middle" fontFamily={FONT} fontSize={14.5} fill="#000000">
        t
      </text>
      <text transform={`translate(${p.left - 37},${cy}) rotate(-90)`} textAnchor="middle" fontFamily={FONT} fontSize={14.5} fill="#000000">
        X(t)
      </text>
    </g>
  );
}

export default function App() {
  return (
    <svg width={1058} height={878} viewBox="0 0 1058 878" style={{ position: "absolute", left: 0, top: 0, background: "#FFFFFF" }}>
      <rect x={0} y={0} width={1058} height={878} fill="#FFFFFF" />
      {PANELS.map((p) => (
        <Panel key={p.id} p={p} />
      ))}
    </svg>
  );
}
